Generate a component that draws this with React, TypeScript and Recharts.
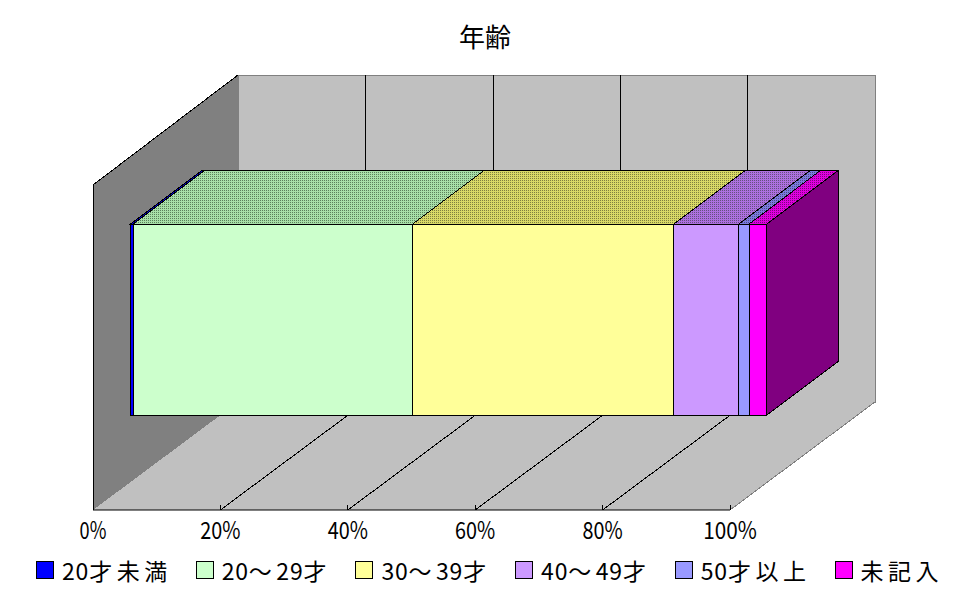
import { Bar, BarChart, Legend, ReferenceArea, XAxis, YAxis } from "recharts";

const categories = ["年齢"];
const seriesNames = ["20才未満", "20～29才", "30～39才", "40～49才", "50才以上", "未記入"];
const seriesColors = ["#0000FF", "#CCFFCC", "#FFFF99", "#CC99FF", "#9999FF", "#FF00FF"];
const seriesTop = ["#0000E6", "#A8E0A8", "#D9D966", "#AD70E0", "#7A7AE0", "#E000E0"];
const seriesDots = ["#000080", "#5C805C", "#808040", "#665080", "#4D4D80", "#800080"];
const seriesSide = ["#000080", "#668066", "#808040", "#664D80", "#4D4D80", "#800080"];
const under20 = [0.4];
const age20s = [43.9];
const age30s = [41.0];
const age40s = [10.2];
const over50 = [1.6];
const noAnswer = [2.8];
const seriesValues = [under20, age20s, age30s, age40s, over50, noAnswer];
const axisTicks = [0, 20, 40, 60, 80, 100];
const gridTicks = [20, 40, 60, 80, 100];

const rows = categories.map((name, i) => {
  const row: Record<string, string | number> = { name };
  seriesNames.forEach((s, j) => {
    row[s] = seriesValues[j][i];
  });
  return row;
});

const FONT = '"Noto Sans CJK JP", sans-serif';
// 3D offsets of the old spreadsheet look
const WALL_DX = 145;
const WALL_DY = 108;
const BAR_DX = 37.5;
const BAR_DY = 28;
const BAR_DEPTH_X = 72;
const BAR_DEPTH_Y = 54;

function pts(list: number[][]) {
  return list.map((p) => p.join(",")).join(" ");
}

function Walls({ x, y, width, height }: any) {
  const bottom = y + height;
  const right = x + width;
  return (
    <g shapeRendering="crispEdges">
      <rect
        x={x + WALL_DX}
        y={y - WALL_DY + 0.5 - 2}
        width={width}
        height={height + 2}
        fill="#C0C0C0"
        stroke="#808080"
      />
      <polygon
        points={pts([
          [x, y],
          [x + WALL_DX, y - WALL_DY - 2],
          [x + WALL_DX, bottom - WALL_DY],
          [x, bottom],
        ])}
        fill="#808080"
      />
      <polyline
        points={pts([
          [x, bottom],
          [x, y],
          [x + WALL_DX, y - WALL_DY - 2],
        ])}
        fill="none"
        stroke="#000"
      />
      <polygon
        points={pts([
          [x, bottom],
          [right, bottom],
          [right + WALL_DX, bottom - WALL_DY],
          [x + WALL_DX, bottom - WALL_DY],
        ])}
        fill="#C0C0C0"
      />
      <line x1={right} y1={bottom} x2={right + WALL_DX} y2={bottom - WALL_DY} stroke="#808080" />
    </g>
  );
}

function GridLine({ x, y, height, tick }: any) {
  const bottom = y + height;
  const backX = x + WALL_DX + 0.3;
  return (
    <g shapeRendering="crispEdges" stroke="#000" fill="none">
      <line x1={x} y1={bottom} x2={x} y2={bottom - 5} />
      {tick < 100 && (
        <polyline
          points={pts([
            [x, bottom],
            [backX, bottom - WALL_DY],
            [backX, y - WALL_DY - 2],
          ])}
        />
      )}
    </g>
  );
}

function Block3D({ x, y, width, height, index }: any) {
  const i = index;
  const left = x + BAR_DX;
  const top = y - BAR_DY;
  const patternId = "top-" + i;
  const isLast = i === seriesNames.length - 1;
  return (
    <g shapeRendering="crispEdges" stroke="#000">
      <defs>
        <pattern id={patternId} width={2} height={2} patternUnits="userSpaceOnUse">
          <rect width={2} height={2} fill={seriesTop[i]} stroke="none" />
          <rect width={1} height={1} fill={seriesDots[i]} stroke="none" />
        </pattern>
      </defs>
      <polygon
        points={pts([
          [left, top],
          [left + width, top],
          [left + width + BAR_DEPTH_X, top - BAR_DEPTH_Y],
          [left + BAR_DEPTH_X, top - BAR_DEPTH_Y],
        ])}
        fill={`url(#${patternId})`}
      />
      {isLast && (
        <polygon
          points={pts([
            [left + width, top],
            [left + width + BAR_DEPTH_X, top - BAR_DEPTH_Y],
            [left + width + BAR_DEPTH_X, top + height - BAR_DEPTH_Y],
            [left + width, top + height],
          ])}
          fill={seriesSide[i]}
        />
      )}
      <rect x={left} y={top} width={width} height={height} fill={seriesColors[i]} />
    </g>
  );
}

function AxisTick({ x, y, payload }: any) {
  const label = payload.value + "%";
  return (
    <text
      x={x}
      y={y + 21}
      textAnchor="middle"
      fontFamily={FONT}
      fontSize={24}
      fill="#000"
      textLength={label.length * 13.4}
      lengthAdjust="spacingAndGlyphs"
    >
      {label}
    </text>
  );
}

function LegendRow() {
  return (
    <div style={{ position: "relative", width: 970, height: 40, fontFamily: FONT }}>
      {seriesNames.map((name, i) => (
        <div key={name} style={{ position: "absolute", left: 36 + i * 159.7, top: 0, height: 40, whiteSpace: "nowrap" }}>
          <span
            style={{
              position: "absolute",
              left: 0,
              top: 11,
              width: 16,
              height: 16,
              background: seriesColors[i],
              border: "1px solid #000",
            }}
          />
          <span
            style={{
              position: "absolute",
              left: 26,
              top: 0,
              lineHeight: "40px",
              fontSize: 23,
              color: "#000",
            }}
          >
            {/* digits sit tight, kana/kanji are spaced out in the original */}
            {name.split(/(\d+)/).map((run, j) =>
              run ? (
                <span key={j} style={{ letterSpacing: /\d/.test(run) ? 0.8 : 4.5 }}>
                  {run}
                </span>
              ) : null
            )}
          </span>
        </div>
      ))}
    </div>
  );
}

export default function App() {
  return (
    <div style={{ position: "absolute", left: 0, top: 0, width: 970, height: 604, background: "#fff", overflow: "hidden" }}>
      <div
        style={{
          position: "absolute",
          left: 0,
          width: 970,
          top: 18,
          textAlign: "center",
          fontFamily: FONT,
          fontSize: 26,
          lineHeight: "36px",
          color: "#000",
        }}
      >
        年齢
      </div>
      <BarChart
        width={970}
        height={604}
        data={rows}
        layout="vertical"
        margin={{ top: 185, right: 240, bottom: 0, left: 93 }}
        style={{ position: "absolute", left: 0, top: 0 }}
      >
        <ReferenceArea x1={0} x2={100} ifOverflow="visible" shape={Walls} />
        {gridTicks.map((t) => (
          <ReferenceArea key={t} x1={t} x2={t} ifOverflow="visible" shape={(p: any) => <GridLine {...p} tick={t} />} />
        ))}
        <XAxis
          type="number"
          domain={[0, 100]}
          ticks={axisTicks}
          interval={0}
          height={54}
          tick={AxisTick}
          tickLine={false}
          axisLine={{ stroke: "#000" }}
        />
        <YAxis type="category" dataKey="name" hide />
        {seriesNames.map((name, i) => (
          <Bar
            key={name}
            dataKey={name}
            stackId="a"
            barSize={191}
            fill={seriesColors[i]}
            isAnimationActive={false}
            shape={(p: any) => <Block3D {...p} index={i} />}
          />
        ))}
        <Legend content={LegendRow} height={40} wrapperStyle={{ left: 0, top: 550, width: 970, height: 40 }} />
      </BarChart>
    </div>
  );
}
